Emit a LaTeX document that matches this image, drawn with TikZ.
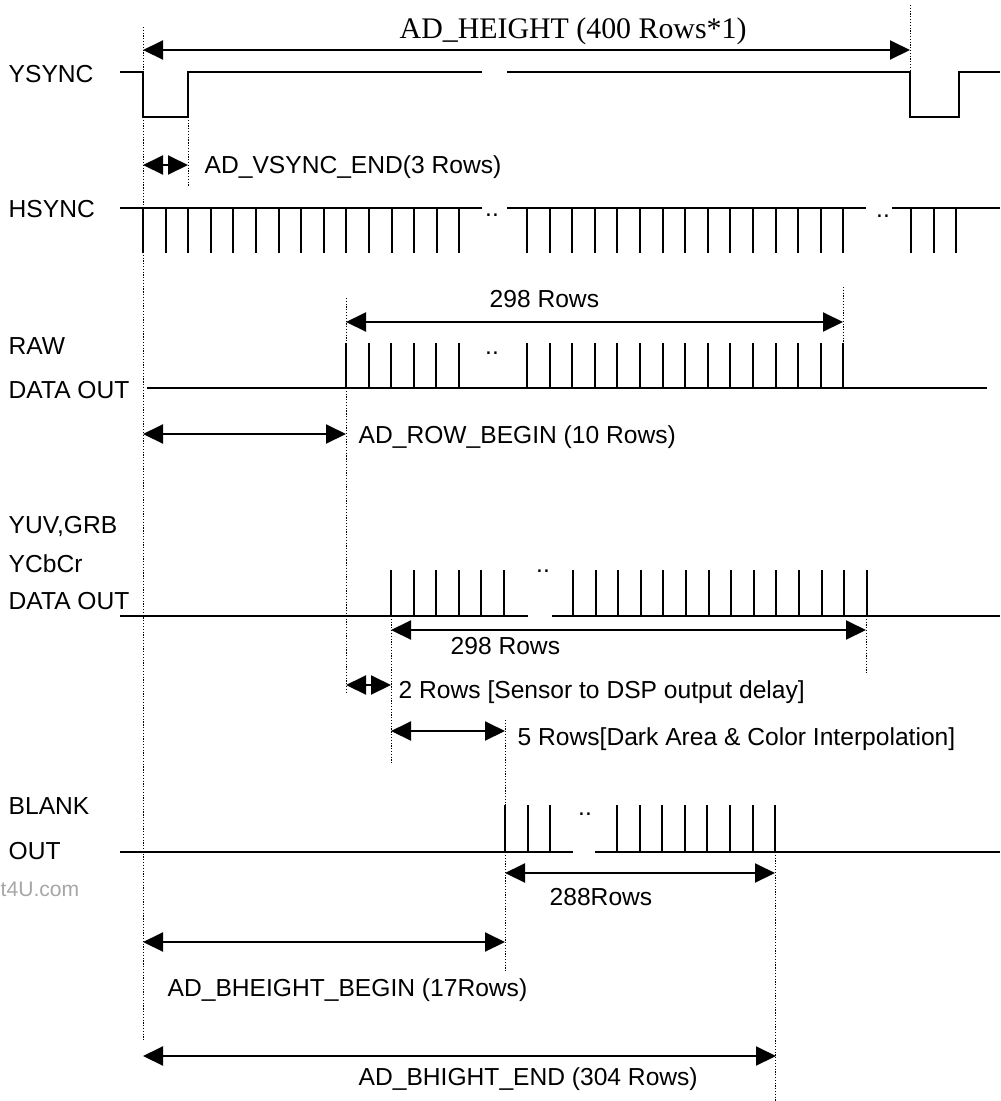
\documentclass[tikz,border=0pt]{standalone}
\usepackage{fontspec}
\setmainfont{Liberation Sans}
\newfontfamily\titlefont{Liberation Serif}
\usetikzlibrary{arrows.meta}

\begin{document}
\begin{tikzpicture}[x=0.1mm, y=-0.1mm,
    sig/.style={line width=0.2mm},
    guide/.style={line width=0.1mm, dash pattern=on 0.35pt off 0.45pt},
    span/.style={line width=0.2mm, {Triangle[length=2mm,width=1.9mm]}-{Triangle[length=2mm,width=1.9mm]}},
    lbl/.style={anchor=base west, inner sep=0pt, font=\fontsize{7}{8}\selectfont},
    gapdots/.style={anchor=base, inner sep=0pt, font=\fontsize{7}{8}\selectfont}]
    \useasboundingbox (0,0) rectangle (1000,1101);
    % signal names
    \node[lbl] (ysync) at (8,82) {YSYNC}; \node[lbl] (hsync) at (8,217) {HSYNC};
    \node[lbl] (raw) at (8,354) {RAW}; \node[lbl] (rawout) at (8,398) {DATA OUT};
    \node[lbl] (yuv) at (8,533) {YUV,GRB}; \node[lbl] (ycbcr) at (8,572) {YCbCr}; \node[lbl] (yuvout) at (8,609) {DATA OUT};
    \node[lbl] (blank) at (8,814) {BLANK}; \node[lbl] (blankout) at (8,859) {OUT};
    \node[lbl, text=black!35, font=\fontsize{6}{7}\selectfont] (mark) at (0,896) {t4U.com};
    % waveforms
    \draw[sig] (120,72) -- (143,72) -- (143,117) -- (188,117) -- (188,72) -- (482,72) (507,72) -- (910,72) -- (910,117) -- (959,117) -- (959,72) -- (1000,72);
    \draw[sig] (120,208) -- (482,208) (507,208) -- (866,208) (892,208) -- (1000,208);
    \foreach \k in {0,...,14} \draw[sig] ({143+22.6*\k},208) -- ++(0,45) ({527+22.6*\k},208) -- ++(0,45);
    \foreach \k in {0,1,2} \draw[sig] ({911+22.6*\k},208) -- ++(0,45);
    \draw[sig] (147,388) -- (987,388);
    \foreach \k in {0,...,5} \draw[sig] ({346+22.6*\k},388) -- ++(0,-45);
    \foreach \k in {0,...,14} \draw[sig] ({527+22.6*\k},388) -- ++(0,-45);
    \draw[sig] (120,616) -- (528,616) (552,616) -- (1000,616);
    \foreach \k in {0,...,5} \draw[sig] ({391+22.6*\k},616) -- ++(0,-46);
    \foreach \k in {0,...,13} \draw[sig] ({573+22.6*\k},616) -- ++(0,-46);
    \draw[sig] (120,852) -- (573,852) (595,852) -- (1000,852);
    \foreach \k in {0,1,2} \draw[sig] ({505+22.6*\k},852) -- ++(0,-47);
    \foreach \k in {0,...,7} \draw[sig] ({617+22.6*\k},852) -- ++(0,-47);
    \node[gapdots] (g1) at (492,216) {..}; \node[gapdots] (g2) at (883,217) {..};
    \node[gapdots] (g3) at (492,354) {..}; \node[gapdots] (g4) at (543,572) {..}; \node[gapdots] (g5) at (585,815) {..};
    % guide lines
    \draw[guide] (143,27) -- (143,1042) (188,72) -- (188,186) (910,5) -- (910,72);
    \draw[guide] (346,298) -- (346,693) (843,287) -- (843,388);
    \draw[guide] (391,616) -- (391,763) (866,616) -- (866,673);
    \draw[guide] (505,720) -- (505,971) (775,852) -- (775,1101);
    % spans
    \draw[span] (143,50) -- (910,50);
    \node[lbl, font=\titlefont\fontsize{8.5}{10}\selectfont] (height) at (399,38) {AD\_HEIGHT (400 Rows*1)};
    \draw[span] (143,165) -- (188,165);
    \node[lbl] (vsend) at (204,173) {AD\_VSYNC\_END(3 Rows)};
    \draw[span] (346,322) -- (843,322);
    \node[lbl] (rawrows) at (489,307) {298 Rows};
    \draw[span] (143,434) -- (346,434);
    \node[lbl] (rowbegin) at (358,443) {AD\_ROW\_BEGIN (10 Rows)};
    \draw[span] (391,630) -- (866,630);
    \node[lbl] (yuvrows) at (450,654) {298 Rows};
    \draw[span] (346,685) -- (391,685);
    \node[lbl] (delay) at (398,698) {2 Rows [Sensor to DSP output delay]};
    \draw[span] (391,731) -- (505,731);
    \node[lbl] (dark) at (517,745) {5 Rows[Dark Area \& Color Interpolation]};
    \draw[span] (505,873) -- (775,873);
    \node[lbl] (blankrows) at (549,905) {288Rows};
    \draw[span] (143,942) -- (505,942);
    \node[lbl] (bbegin) at (167,996) {AD\_BHEIGHT\_BEGIN (17Rows)};
    \draw[span] (143,1056) -- (776,1056);
    \node[lbl] (bend) at (358,1085) {AD\_BHIGHT\_END (304 Rows)};
\end{tikzpicture}
\end{document}
